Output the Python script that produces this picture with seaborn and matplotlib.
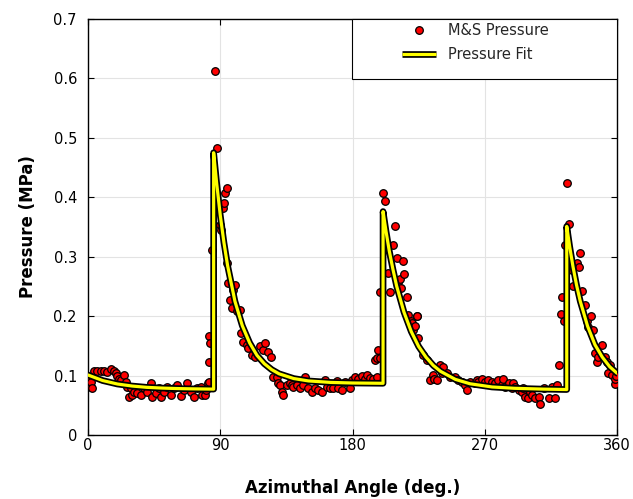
import matplotlib
matplotlib.use("Agg")
import matplotlib.pyplot as plt
from matplotlib.legend_handler import HandlerTuple
from matplotlib.patches import Rectangle
from matplotlib.lines import Line2D
import seaborn as sns

# ---- measured data (M&S pressure) ----
angle = [0.0, 0.5, 1.8, 2.3, 2.9, 4.1, 6.3, 9.0, 10.9, 13.1, 15.4, 17.7, 18.8, 19.9,
         21.1, 22.2, 24.5, 25.6, 26.8, 27.9, 29.0, 30.2, 31.3, 33.6, 35.9, 38.1, 40.4,
         42.7, 43.8, 46.1, 48.3, 49.5, 51.7, 54.0, 56.3, 58.5, 60.8, 63.1, 65.4, 67.6,
         69.9, 72.2, 74.4, 76.7, 77.8, 79.6, 80.1, 81.5, 82.4, 82.6, 82.4, 83.1, 84.2,
         86.4, 87.6, 89.9, 90.3, 92.1, 92.8, 93.3, 94.4, 94.6, 95.5, 96.7, 97.8, 99.0,
         100.1, 101.2, 103.5, 104.2, 105.7, 108.0, 109.1, 111.4, 113.7, 117.1, 119.3,
         120.5, 122.7, 124.6, 126.1, 128.4, 129.6, 130.7, 131.9, 133.0, 135.3, 137.5,
         138.7, 139.8, 142.0, 144.3, 146.6, 147.7, 150.0, 152.3, 154.5, 156.8, 159.1,
         161.3, 162.5, 164.7, 167.0, 169.3, 170.4, 172.7, 175.0, 178.4, 179.5, 181.8,
         184.0, 186.3, 188.6, 189.7, 192.0, 194.2, 195.4, 196.5, 196.9, 197.6, 198.8,
         198.8, 201.0, 202.2, 204.4, 205.6, 207.8, 209.0, 210.1, 211.2, 212.4, 213.1,
         214.2, 215.3, 217.0, 218.1, 219.9, 220.3, 221.4, 222.6, 223.7, 224.2, 224.8,
         228.3, 230.6, 232.8, 235.1, 235.7, 237.4, 239.6, 240.8, 241.8, 244.2, 246.4,
         249.8, 252.1, 254.4, 256.6, 257.8, 260.0, 263.4, 264.6, 265.7, 268.0, 270.3,
         272.5, 274.8, 277.1, 279.3, 281.6, 282.7, 283.9, 286.2, 288.4, 289.5, 290.7,
         293.0, 295.2, 296.3, 297.5, 299.7, 300.9, 302.0, 304.3, 306.6, 307.7, 310.0,
         313.4, 315.6, 317.9, 319.0, 320.2, 322.0, 322.9, 323.6, 324.7, 326.3, 327.0,
         329.3, 329.8, 332.7, 334.2, 334.9, 336.5, 337.9, 339.5, 340.6, 342.4, 344.0,
         344.7, 346.3, 347.4, 349.7, 352.0, 353.1, 353.6, 355.3, 356.5, 358.3, 358.7,
         359.5]
pressure = [0.098, 0.085, 0.081, 0.090, 0.079, 0.107, 0.108, 0.107, 0.108, 0.106, 0.111,
            0.108, 0.104, 0.100, 0.095, 0.093, 0.101, 0.090, 0.081, 0.064, 0.079, 0.067,
            0.073, 0.070, 0.067, 0.079, 0.073, 0.087, 0.064, 0.070, 0.079, 0.064, 0.073,
            0.081, 0.067, 0.079, 0.084, 0.066, 0.076, 0.087, 0.073, 0.064, 0.079, 0.081,
            0.067, 0.067, 0.076, 0.087, 0.089, 0.123, 0.166, 0.154, 0.311, 0.612, 0.483,
            0.354, 0.345, 0.382, 0.390, 0.407, 0.415, 0.289, 0.255, 0.227, 0.213, 0.244,
            0.253, 0.208, 0.210, 0.171, 0.157, 0.152, 0.146, 0.135, 0.132, 0.149, 0.143,
            0.154, 0.140, 0.132, 0.098, 0.098, 0.087, 0.084, 0.073, 0.067, 0.084, 0.087,
            0.084, 0.081, 0.084, 0.079, 0.084, 0.098, 0.079, 0.073, 0.079, 0.076, 0.073,
            0.093, 0.080, 0.079, 0.079, 0.091, 0.079, 0.076, 0.090, 0.079, 0.093, 0.098,
            0.094, 0.100, 0.095, 0.101, 0.096, 0.094, 0.126, 0.098, 0.130, 0.143, 0.129,
            0.241, 0.408, 0.393, 0.272, 0.241, 0.320, 0.351, 0.297, 0.258, 0.262, 0.247,
            0.292, 0.271, 0.233, 0.202, 0.191, 0.188, 0.176, 0.184, 0.201, 0.200, 0.163,
            0.135, 0.126, 0.093, 0.101, 0.095, 0.093, 0.118, 0.104, 0.115, 0.104, 0.098,
            0.098, 0.093, 0.090, 0.084, 0.075, 0.090, 0.087, 0.093, 0.090, 0.095, 0.090,
            0.093, 0.090, 0.087, 0.093, 0.084, 0.095, 0.081, 0.087, 0.079, 0.087, 0.081,
            0.076, 0.073, 0.079, 0.064, 0.062, 0.073, 0.067, 0.062, 0.064, 0.053, 0.079,
            0.063, 0.081, 0.063, 0.084, 0.117, 0.204, 0.233, 0.191, 0.320, 0.424, 0.355,
            0.278, 0.250, 0.289, 0.283, 0.306, 0.243, 0.219, 0.191, 0.182, 0.200, 0.176,
            0.138, 0.123, 0.132, 0.152, 0.132, 0.123, 0.105, 0.118, 0.101, 0.085, 0.095,
            0.100]

# ---- fitted curve ----
fit_angle = [0, 10, 20, 30, 40, 50, 60, 70, 85.5, 85.5, 87.5, 90, 92.5, 95, 100, 105,
             110, 115, 120, 125, 130, 140, 150, 165, 180, 200.8, 200.8, 202.8, 205,
             207.5, 210, 215, 220, 225, 230, 235, 240, 250, 260, 275, 290, 310, 325.8,
             325.8, 327.8, 330, 332.5, 335, 340, 345, 350, 355, 360]
fit_pressure = [0.101, 0.0916, 0.0858, 0.0824, 0.0802, 0.0790, 0.0782, 0.0777, 0.0772,
                0.475, 0.425, 0.370, 0.324, 0.285, 0.225, 0.184, 0.155, 0.134, 0.120,
                0.110, 0.103, 0.095, 0.091, 0.0885, 0.0875, 0.0870, 0.376, 0.343, 0.310,
                0.279, 0.251, 0.207, 0.174, 0.149, 0.131, 0.117, 0.107, 0.0936, 0.0862,
                0.0808, 0.0786, 0.0772, 0.0765, 0.351, 0.317, 0.284, 0.252, 0.225, 0.183,
                0.152, 0.131, 0.115, 0.104]

x_ticks = [0, 90, 180, 270, 360]
y_ticks = [0, 0.1, 0.2, 0.3, 0.4, 0.5, 0.6, 0.7]
y_tick_labels = ["0", "0.1", "0.2", "0.3", "0.4", "0.5", "0.6", "0.7"]

sns.set_theme(style="white")
plt.rcParams['font.family'] = ['DejaVu Sans']

fig = plt.figure(figsize=(6.33, 4.99), dpi=100)
ax = fig.add_axes([88 / 633, 64 / 499, 529 / 633, 416 / 499])

sns.scatterplot(x=angle, y=pressure, ax=ax, color="#ff0000", edgecolor="black",
                linewidth=0.9, s=30, zorder=3, legend=False)
sns.lineplot(x=fit_angle, y=fit_pressure, ax=ax, sort=False, estimator=None,
             color="black", linewidth=4.8, zorder=4, legend=False)
sns.lineplot(x=fit_angle, y=fit_pressure, ax=ax, sort=False, estimator=None,
             color="#ffff00", linewidth=2.3, zorder=5, legend=False)

ax.set_xlim(0, 360)
ax.set_ylim(0, 0.7)
ax.set_xticks(x_ticks)
ax.set_yticks(y_ticks)
ax.set_yticklabels(y_tick_labels)
ax.grid(True, color="#e3e3e3", linewidth=0.8)
ax.set_axisbelow(True)
for sp in ax.spines.values():
    sp.set_color("black")
    sp.set_linewidth(1.0)
    sp.set_visible(True)
ax.tick_params(axis="both", which="both", direction="in", length=4, width=0.8,
               colors="black", labelsize=10.5, top=True, right=True,
               bottom=True, left=True)
ax.tick_params(axis="x", pad=2)
ax.tick_params(axis="y", pad=8)

ax.set_xlabel("Azimuthal Angle (deg.)", fontsize=12, fontweight="bold",
              color="black", labelpad=19)
ax.set_ylabel("Pressure (MPa)", fontsize=12, fontweight="bold",
              color="black", labelpad=12)

# legend box
box = Rectangle(((352 - 88) / 529, (435 - 79) / 416), (617 - 352) / 529, 60 / 416,
                transform=ax.transAxes, facecolor="white", edgecolor="black",
                linewidth=0.8, zorder=6, clip_on=False)
ax.add_patch(box)

h_pt = Line2D([], [], linestyle="none", marker="o", markerfacecolor="#ff0000",
              markeredgecolor="black", markersize=5.5, markeredgewidth=0.9)
h_black = Line2D([], [], color="black", linewidth=4.8, solid_capstyle="butt")
h_yellow = Line2D([], [], color="#ffff00", linewidth=2.3, solid_capstyle="butt")
leg = ax.legend(handles=[h_pt, (h_black, h_yellow)],
                labels=["M&S Pressure", "Pressure Fit"],
                handler_map={tuple: HandlerTuple(ndivide=1, pad=0)},
                loc="upper left", bbox_to_anchor=((398 - 88) / 529, 1.0),
                frameon=False, fontsize=10.5, handlelength=2.3,
                handletextpad=0.8, labelspacing=0.6, borderpad=0.3,
                borderaxespad=0)
leg.set_zorder(7)

fig.savefig("out.png", dpi=100)
